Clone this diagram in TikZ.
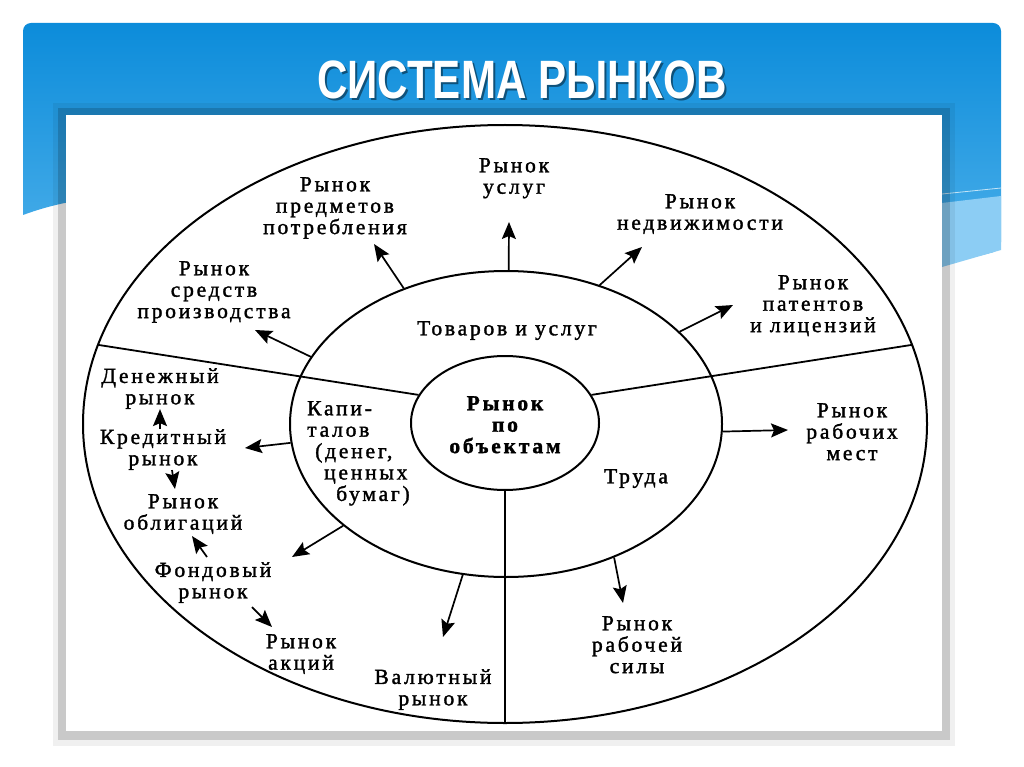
\documentclass[tikz,border=0pt]{standalone}
\usepackage{fontspec}
\setmainfont{Liberation Serif}[LetterSpace=13, FakeBold=1.6]
\newfontfamily\titlefont{Liberation Sans}
\usetikzlibrary{shapes.geometric,arrows.meta}
\definecolor{hdrTop}{HTML}{0C8CDA}
\definecolor{hdrBot}{HTML}{5BB8EE}
\definecolor{band}{HTML}{8CCDF4}
\begin{document}
\begin{tikzpicture}[x=1pt,y=-1pt,
  lbl/.style={align=center, inner sep=0pt, anchor=north, font=\fontsize{21.5}{21.4}\selectfont},
  ring/.style={ellipse, draw, line width=2pt, inner sep=0pt},
  arr/.style={line width=1.7pt, -{Stealth[length=17pt,width=14pt,inset=3pt]}},
  sep/.style={line width=1.8pt},
  ttl/.style={font=\titlefont\bfseries\fontsize{54}{60}\selectfont, inner sep=0pt}]
\useasboundingbox (0,0) rectangle (1024,767);
\fill[white] (0,0) rectangle (1024,767);
% header
\shade[top color=hdrTop, bottom color=hdrBot] (23,215) [rounded corners=8pt] -- (23,23) -- (1001,23) -- (1001,250) [sharp corners] .. controls (750,320) and (250,130) .. (23,215) -- cycle;
\fill[band] (942,203) -- (1001,196) -- (1001,250) -- (942,267) -- cycle;
\draw[white, opacity=0.7, line width=0.8pt] (942,194) -- (1001,188);
% title
\node[ttl, text=black, opacity=0.45] (titleshadow) at (524,82) {\scalebox{0.78}[1]{СИСТЕМА РЫНКОВ}};
\node[ttl, text=white] (title) at (522,80) {\scalebox{0.78}[1]{СИСТЕМА РЫНКОВ}};
% panel with shadow
\fill[black, opacity=0.06] (53,103) rectangle (955,746);
\fill[black, opacity=0.16] (58,108) rectangle (950,740);
\fill[white] (66,115) rectangle (942,731);
% rings
\node[ring, minimum width=844pt, minimum height=598pt] (outer) at (505,424) {};
\node[ring, minimum width=432pt, minimum height=306pt] (mid) at (506,424) {};
\node[ring, minimum width=188pt, minimum height=134pt] (inner) at (505,423) {};
% separators
\draw[sep] (outer.169) -- (inner.162);
\draw[sep] (inner.18) -- (outer.11);
\draw[sep] (inner.270) -- (outer.270);
% labels
\node[lbl] (uslug) at (514,158) {Рынок\\услуг};
\node[lbl] (predm) at (335,177) {Рынок\\предметов\\потребления};
\node[lbl] (sredstv) at (214,261) {Рынок\\средств\\производства};
\node[lbl] (nedv) at (700,194) {Рынок\\недвижимости};
\node[lbl] (patent) at (813,275) {Рынок\\патентов\\и лицензий};
\node[lbl] (tovar) at (507,321) {Товаров и услуг};
\node[lbl, font={\fontsize{21.5}{21.4}\selectfont\bfseries}] (obj) at (505,396) {Рынок\\по\\объектам};
\node[lbl, anchor=north west, align=left] (kapital) at (307,401) {Капи-\\талов\\\hspace*{8pt}(денег,\\\hspace*{17pt}ценных\\\hspace*{29pt}бумаг)};
\node[lbl] (truda) at (636,469) {Труда};
\node[lbl] (rabmest) at (852,403) {Рынок\\рабочих\\мест};
\node[lbl] (rabsil) at (637,616) {Рынок\\рабочей\\силы};
\node[lbl] (valut) at (433,669) {Валютный\\рынок};
\node[lbl] (den) at (160,368) {Денежный\\рынок};
\node[lbl] (kred) at (163,429) {Кредитный\\рынок};
\node[lbl] (obl) at (183,494) {Рынок\\облигаций};
\node[lbl] (fond) at (213,562) {Фондовый\\рынок};
\node[lbl] (akc) at (301,634) {Рынок\\акций};
% arrow tips
\coordinate (tUslug) at (509,222);
\coordinate (tPredm) at (374,244);
\coordinate (tSredstv) at (255,330);
\coordinate (tNedv) at (642,247);
\coordinate (tPatent) at (733,305);
\coordinate (tRabmest) at (788,430);
\coordinate (tRabsil) at (623,603);
\coordinate (tValut) at (443,637);
\coordinate (tKapL) at (245,448);
\coordinate (tKapD) at (292,557);
% arrows from the middle ring
\draw[arr] (mid.89) -- (tUslug);
\draw[arr] (mid.127) -- (tPredm);
\draw[arr] (mid.161) -- (tSredstv);
\draw[arr] (mid.56) -- (tNedv);
\draw[arr] (mid.28) -- (tPatent);
\draw[arr] (mid.358) -- (tRabmest);
\draw[arr] (mid.309) -- (tRabsil);
\draw[arr] (mid.254) -- (tValut);
\draw[arr] (mid.185) -- (tKapL);
\draw[arr] (mid.212) -- (tKapD);
% chain arrows
\draw[arr] ([xshift=-3pt]kred.north) -- (den.south);
\draw[arr] ([xshift=9pt]kred.south) -- ([xshift=-8pt,yshift=5pt]obl.north);
\draw[arr] ([xshift=-6pt,yshift=5pt]fond.north) -- ([xshift=9pt,yshift=-2pt]obl.south);
\draw[arr] ([xshift=39pt,yshift=-4pt]fond.south) -- ([xshift=-29pt,yshift=7pt]akc.north);
\end{tikzpicture}
\end{document}
